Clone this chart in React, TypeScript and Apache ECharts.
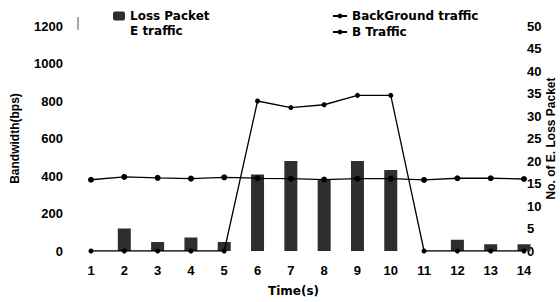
import React, { useEffect, useRef } from "react";
import * as echarts from "echarts";

const categories = ["1", "2", "3", "4", "5", "6", "7", "8", "9", "10", "11", "12", "13", "14"];
const lossPacket = [0, 5, 2, 3, 2, 17, 20, 16, 20, 18, 0, 2.5, 1.5, 1.5];
const backgroundTraffic = [0, 0, 0, 0, 0, 800, 765, 780, 830, 830, 0, 0, 0, 0];
const bTraffic = [380, 395, 390, 386, 393, 388, 386, 381, 386, 386, 379, 388, 388, 384];

const FONT = "'Liberation Sans', Arial, sans-serif";
const WIDE = "'DejaVu Sans', sans-serif";
const txt = { fontFamily: FONT, fontWeight: "bold" as const, fontSize: 13, color: "#000" };
const wide = { fontFamily: WIDE, fontWeight: "bold" as const, fontSize: 12, color: "#000" };

export default function App() {
  const ref = useRef<HTMLDivElement>(null);
  useEffect(() => {
    if (!ref.current) return;
    const chart = echarts.init(ref.current, null, { renderer: "svg" });
    chart.setOption({
      animation: false,
      backgroundColor: "#fff",
      textStyle: { fontFamily: FONT },
      grid: { left: 91, right: 36, top: 26, bottom: 51, outerBoundsMode: "none", containLabel: false },
      legend: [
        {
          data: ["Loss Packet"],
          left: 108,
          top: 5,
          itemWidth: 12,
          itemHeight: 9,
          itemGap: 4,
          textStyle: wide,
        },
        {
          data: ["BackGround traffic", "B Traffic"],
          orient: "vertical",
          left: 327,
          top: 5,
          itemWidth: 14,
          itemHeight: 6,
          itemGap: 4,
          textStyle: wide,
        },
      ],
      graphic: [
        { type: "text", left: 130, top: 25, style: { text: "E traffic", font: `bold 12px ${WIDE}`, fill: "#000" } },
        { type: "line", shape: { x1: 78, y1: 17, x2: 78, y2: 30 }, style: { stroke: "#555", lineWidth: 1 } },
      ],
      xAxis: {
        type: "category",
        data: categories,
        boundaryGap: false,
        axisLine: { show: false },
        axisTick: { show: false },
        axisLabel: { ...txt, margin: 13 },
        name: "Time(s)",
        nameLocation: "middle",
        nameGap: 34,
        nameTextStyle: { ...wide, padding: [0, 28, 0, 0] },
      },
      yAxis: [
        {
          type: "value",
          min: 0,
          max: 1200,
          interval: 200,
          splitLine: { show: false },
          axisLine: { show: false },
          axisTick: { show: false },
          axisLabel: { ...txt, margin: 28, formatter: (v: number) => String(v) },
          name: "Bandwidth(bps)",
          nameLocation: "middle",
          nameRotate: 90,
          nameGap: 70,
          nameTextStyle: { ...txt, fontSize: 12 },
        },
        {
          type: "value",
          position: "right",
          min: 0,
          max: 50,
          interval: 5,
          splitLine: { show: false },
          axisLine: { show: false },
          axisTick: { show: false },
          axisLabel: { ...txt, margin: 3, formatter: (v: number) => String(v) },
          name: "No. of E. Loss Packet",
          nameLocation: "middle",
          nameRotate: 90,
          nameGap: 21,
          nameMoveOverlap: false,
          nameTextStyle: { ...txt, fontSize: 12 },
        },
      ],
      series: [
        {
          name: "Loss Packet",
          type: "bar",
          yAxisIndex: 1,
          data: lossPacket,
          barWidth: 13,
          clip: false,
          itemStyle: { color: "#2e2e2e" },
          z: 1,
        },
        {
          name: "BackGround traffic",
          type: "line",
          data: backgroundTraffic,
          symbol: "circle",
          symbolSize: 5,
          lineStyle: { color: "#000", width: 1.3 },
          itemStyle: { color: "#000" },
          z: 3,
        },
        {
          name: "B Traffic",
          type: "line",
          data: bTraffic,
          symbol: "circle",
          symbolSize: 6,
          lineStyle: { color: "#000", width: 1.3 },
          itemStyle: { color: "#000" },
          z: 3,
        },
      ],
    });
    return () => chart.dispose();
  }, []);
  return (
    <div
      ref={ref}
      style={{ position: "fixed", left: 0, top: 0, width: 560, height: 302, background: "#fff" }}
    />
  );
}
